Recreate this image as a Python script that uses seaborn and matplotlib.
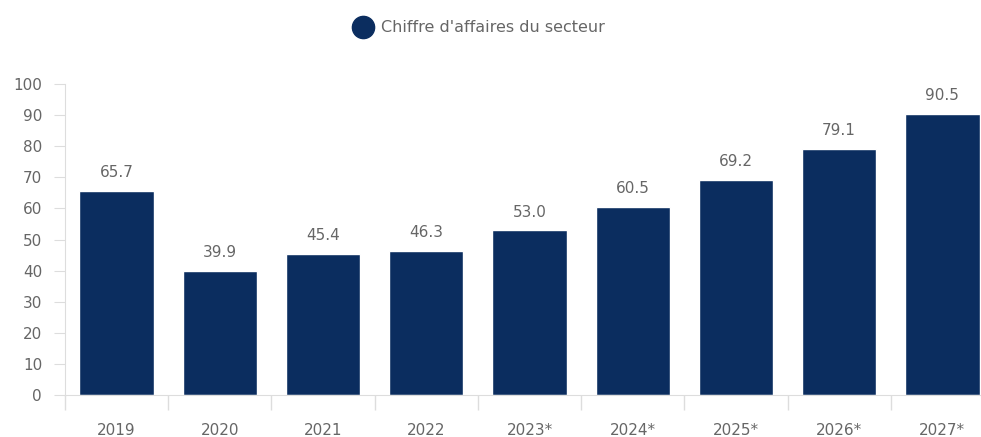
import seaborn as sns
import matplotlib.pyplot as plt
import pandas as pd

years = ["2019", "2020", "2021", "2022", "2023*", "2024*", "2025*", "2026*", "2027*"]
revenue = [65.7, 39.9, 45.4, 46.3, 53.0, 60.5, 69.2, 79.1, 90.5]
series_name = "Chiffre d'affaires du secteur"

df = pd.DataFrame({"year": years, "value": revenue})

sns.set_style("white")
plt.rcParams["font.family"] = ["DejaVu Sans"]

bar_color = "#0b2d5f"
text_color = "#666666"
line_color = "#dddddd"

fig = plt.figure(figsize=(9.81, 4.37), dpi=100)
ax = fig.add_axes([65 / 981, 42 / 437, (981 - 65) / 981, (395 - 84) / 437])

sns.barplot(data=df, x="year", y="value", color=bar_color, width=0.72,
            saturation=1, ax=ax, legend=False)

# value labels above bars
for i, v in enumerate(revenue):
    ax.text(i, v + 5.8, f"{v:.1f}", ha="center", va="center",
            fontsize=11, color=text_color, clip_on=False)

ax.set_xlim(-0.5, 8.374)
ax.set_ylim(0, 100)
ax.set_yticks(range(0, 101, 10))
ax.set_xlabel("")
ax.set_ylabel("")

# tick marks at category boundaries
ax.set_xticks([i - 0.5 for i in range(9)], minor=True)
ax.tick_params(axis="x", which="major", bottom=True, length=0, labelsize=11,
               labelcolor=text_color, pad=20)
ax.tick_params(axis="x", which="minor", bottom=True, length=11, color=line_color,
               width=1, direction="out")
ax.tick_params(axis="y", left=True, length=8, color=line_color, labelsize=11,
               labelcolor=text_color, pad=8.5)

for side in ["top", "right"]:
    ax.spines[side].set_visible(False)
ax.spines["left"].set_color(line_color)
ax.spines["bottom"].set_color(line_color)

# legend at top
handle = plt.Line2D([], [], marker="o", linestyle="", markersize=16,
                    markerfacecolor=bar_color, markeredgecolor=bar_color)
fig.legend([handle], [series_name], loc="center left",
           bbox_to_anchor=(355 / 981, 1 - 28 / 437),
           frameon=False, fontsize=11.5, labelcolor=text_color, handletextpad=0.6,
           handlelength=1.0, borderpad=0, borderaxespad=0)

fig.savefig("out.png", dpi=100)
